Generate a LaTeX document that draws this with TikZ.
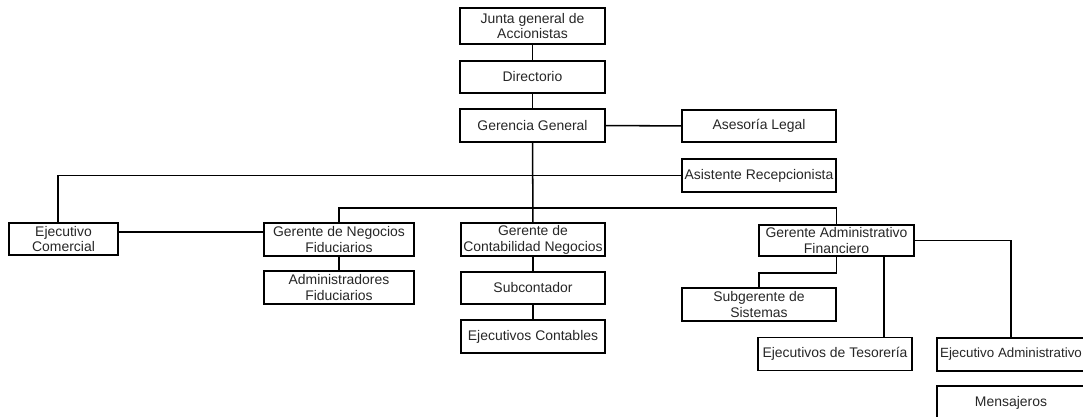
\documentclass[tikz,border=0pt]{standalone}
\usepackage{fontspec}
\setmainfont{Liberation Sans}
\usepackage{tikz}
\usetikzlibrary{positioning, calc}

\begin{document}
\begin{tikzpicture}[x=0.03cm, y=-0.03cm,
  puesto/.style={draw, line width=1.3pt, inner sep=1pt, align=center,
                 font=\fontsize{11.9}{13.6}\selectfont, text=black!85,
                 minimum height=1cm},
  ancho/.style={minimum width=#1*0.03cm},
  enlace/.style={line width=1.3pt},
]
  \useasboundingbox (0,0) rectangle (1083,417);
  \clip (0,0) rectangle (1083,417);

  \node[puesto, ancho=145, minimum height=1.08cm] (junta) at (532.5, 26) {Junta general de\\Accionistas};
  \node[puesto, ancho=145, minimum height=0.96cm] (dir) at (532.5, 77) {Directorio};
  \node[puesto, ancho=145] (gg) at (532.5, 125.5) {Gerencia General};
  \node[puesto, ancho=154, minimum height=0.96cm] (legal) at (759, 126) {Asesoría Legal};
  \node[puesto, ancho=154] (recep) at (759, 175.5) {Asistente Recepcionista};

  \node[puesto, ancho=109, minimum height=0.96cm] (ecom) at (63.5, 239) {Ejecutivo\\Comercial};
  \node[puesto, ancho=150] (gnf) at (339, 239.5) {Gerente de Negocios\\Fiduciarios};
  \node[puesto, ancho=150] (adf) at (339, 287.5) {Administradores\\Fiduciarios};

  \node[puesto, ancho=144] (gcn) at (533, 239.5) {Gerente de\\Contabilidad Negocios};
  \node[puesto, ancho=144, minimum height=0.96cm] (sub) at (533, 288) {Subcontador};
  \node[puesto, ancho=144] (econt) at (533, 336.5) {Ejecutivos Contables};

  \node[puesto, ancho=155, minimum height=0.93cm] (gaf) at (836.5, 240.5) {Gerente Administrativo\\Financiero};
  \node[puesto, ancho=154] (sis) at (759, 304.5) {Subgerente de\\Sistemas};
  \node[puesto, ancho=154] (teso) at (835, 354) {Ejecutivos de Tesorería};
  \node[puesto, ancho=148, font=\fontsize{11.4}{13.6}\selectfont] (eadm) at (1011, 354.5) {Ejecutivo Administrativo};
  \node[puesto, ancho=148] (mens) at (1011, 402.5) {Mensajeros};

  \coordinate (bus) at (532.5, 208);

  % linea jerarquica principal
  \draw[enlace] (junta) -- (dir);
  \draw[enlace] (dir) -- (gg);
  \draw[enlace] (gg) -- (legal);
  \draw[enlace] (gg) -- (gcn);
  \draw[enlace] ([xshift=-0.165cm]ecom.north) |- (recep.west);
  \draw[enlace] (gnf.north) |- (bus) -| (gaf.north);
  \draw[enlace] ([yshift=0.21cm]ecom.east) -- ([yshift=0.21cm]ecom.east -| gnf.west);

  % dependencias
  \draw[enlace] (gnf) -- (adf);
  \draw[enlace] (gcn) -- (sub);
  \draw[enlace] (sub) -- (econt);
  \draw[enlace] (gaf.south) -- ++(0,16) -| (sis.north);
  \draw[enlace] ([xshift=1.42cm]gaf.south) -- ([xshift=1.42cm]gaf.south |- teso.north);
  \draw[enlace] (gaf.east) -| (eadm.north);
\end{tikzpicture}
\end{document}
